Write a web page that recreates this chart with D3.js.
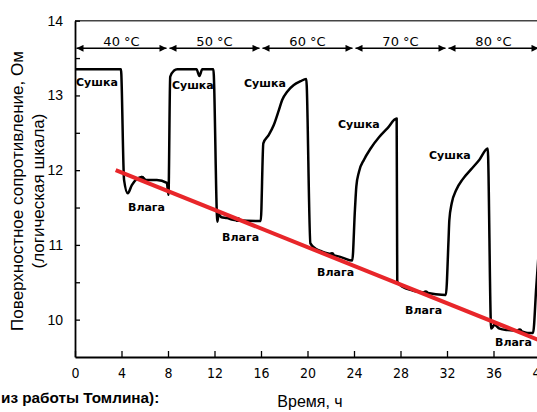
<!DOCTYPE html>
<html>
<head>
<meta charset="utf-8">
<script src="https://cdn.jsdelivr.net/npm/d3@7"></script>
<style>
  body { margin: 0; background: #fff; }
  svg { display: block; }
</style>
</head>
<body>
<div id="chart"></div>
<script>
// chart data
var xTicks = [0, 4, 8, 12, 16, 20, 24, 28, 32, 36, 40];
var yTicks = [10, 11, 12, 13, 14];
var yMinorTicks = [10.5, 11.5, 12.5, 13.5];

var bandLabels = ["40 °C", "50 °C", "60 °C", "70 °C", "80 °C"];
var bandStarts = [0, 8, 16, 24, 32];
var bandEnds = [8, 16, 24, 32, 40];

// time (h), log resistance
var resistanceCurve = [
  [0, 13.35], [3.95, 13.35], [4.22, 11.87], [4.54, 11.69], [4.89, 11.80], [5.3, 11.88],
  [5.75, 11.91], [6.1, 11.87], [7.04, 11.87], [7.9, 11.83], [8.04, 11.67],
  [8.19, 13.25], [8.5, 13.33], [8.8, 13.35], [10.45, 13.35], [10.7, 13.26], [10.95, 13.35], [11.9, 13.35],
  [12.25, 11.31], [12.35, 11.41], [12.6, 11.37], [13.1, 11.36], [13.5, 11.34], [14.0, 11.33], [15.98, 11.32],
  [16.2, 12.36], [16.66, 12.47], [17.09, 12.60], [17.53, 12.80], [17.82, 12.94], [18.25, 13.05],
  [18.82, 13.14], [19.4, 13.19], [19.89, 13.22],
  [20.25, 11.02], [20.7, 10.95], [21.26, 10.91], [22.1, 10.87], [23.0, 10.83], [23.85, 10.79],
  [24.08, 11.47], [24.2, 11.78], [24.43, 11.98], [24.86, 12.14], [25.43, 12.29], [26.15, 12.44],
  [26.87, 12.56], [27.67, 12.69],
  [27.72, 10.51], [28.16, 10.44], [29.03, 10.39], [30.17, 10.36], [31.03, 10.34], [31.9, 10.33],
  [32.13, 11.06], [32.2, 11.33], [32.41, 11.56], [32.78, 11.73], [33.36, 11.88], [34.07, 12.01],
  [34.79, 12.14], [35.5, 12.29],
  [35.8, 9.88], [36.09, 9.93], [36.52, 9.88], [37.24, 9.86], [38.25, 9.85], [38.96, 9.82], [39.4, 9.82],
  [39.68, 10.44], [39.83, 10.77], [40, 11.15]
];
var moistureDots = [[5.75, 11.89], [14.0, 11.34], [22.1, 10.87], [30.17, 10.36], [38.25, 9.85]];

// red trend line
var trendLine = [[3.5, 12.0], [40, 9.72]];

// annotation anchors (time, value)
var dryLabels = [[0.09, 13.13], [8.34, 13.09], [14.54, 13.11], [22.62, 12.56], [30.45, 12.15]];
var wetLabels = [[4.56, 11.46], [12.65, 11.05], [20.82, 10.58], [28.39, 10.08], [36.13, 9.65]];

var width = 537, height = 412;
var bandLevel = 13.63;

var svg = d3.select("#chart")
  .append("svg")
    .attr("width", width)
    .attr("height", height);

var x = d3.scaleLinear()
  .domain([0, 40])
  .range([75, 540]);

var y = d3.scaleLinear()
  .domain([9.5, 14])
  .range([357, 20.7]);

// top frame line
svg.append("line")
  .attr("x1", x(0)).attr("x2", x(40))
  .attr("y1", y(14)).attr("y2", y(14))
  .attr("stroke", "#444")
  .attr("stroke-width", 1.5);

// x axis, ticks pointing up
var xAxis = svg.append("g")
  .attr("transform", "translate(0," + y(9.5) + ")")
  .call(d3.axisBottom(x).tickValues(xTicks).tickSize(-6).tickSizeOuter(0).tickPadding(11));
xAxis.selectAll("text")
  .style("font-family", "'Liberation Sans Narrow', 'DejaVu Sans Condensed', sans-serif")
  .style("font-size", "14px")
  .attr("fill", "#000");

// y axis, ticks pointing right
var yAxis = svg.append("g")
  .attr("transform", "translate(" + x(0) + ",0)")
  .call(d3.axisLeft(y).tickValues(yTicks).tickFormat(d3.format("d")).tickSize(-5).tickSizeOuter(0).tickPadding(12));
yAxis.selectAll("text")
  .style("font-family", "'Liberation Sans', Arial, sans-serif")
  .style("font-size", "14px")
  .attr("fill", "#000");

svg.append("g")
  .attr("transform", "translate(" + x(0) + ",0)")
  .call(d3.axisLeft(y).tickValues(yMinorTicks).tickSize(-5).tickSizeOuter(0).tickFormat(""))
  .select(".domain").remove();

svg.selectAll(".domain").attr("stroke", "#000").attr("stroke-width", 1.8);
svg.selectAll(".tick line").attr("stroke", "#000").attr("stroke-width", 1.3);

// temperature bands with arrows
svg.append("defs").append("marker")
    .attr("id", "arrow")
    .attr("viewBox", "0 0 10 10")
    .attr("refX", 10)
    .attr("refY", 5)
    .attr("markerUnits", "userSpaceOnUse")
    .attr("markerWidth", 11)
    .attr("markerHeight", 7)
    .attr("orient", "auto-start-reverse")
  .append("path")
    .attr("d", "M0,0L10,5L0,10Z")
    .attr("fill", "#000");

var bands = svg.selectAll(".band")
  .data(bandLabels)
  .enter()
  .append("g")
    .attr("class", "band");

bands.append("line")
  .attr("x1", function(d, i) { return x(bandStarts[i]) + 1.5; })
  .attr("x2", function(d, i) { return x(bandEnds[i]) - 1.5; })
  .attr("y1", y(bandLevel))
  .attr("y2", y(bandLevel))
  .attr("stroke", "#000")
  .attr("stroke-width", 1.5)
  .attr("marker-start", "url(#arrow)")
  .attr("marker-end", "url(#arrow)");

bands.append("text")
  .attr("x", function(d, i) { return x((bandStarts[i] + bandEnds[i]) / 2); })
  .attr("y", y(bandLevel) - 2.6)
  .attr("text-anchor", "middle")
  .style("font-family", "'DejaVu Sans', sans-serif")
  .style("font-size", "13px")
  .text(function(d) { return d; });

// measured curve
var line = d3.line()
  .x(function(d) { return x(d[0]); })
  .y(function(d) { return y(d[1]); })
  .curve(d3.curveMonotoneX);

svg.append("path")
  .datum(resistanceCurve)
  .attr("d", line)
  .attr("fill", "none")
  .attr("stroke", "#000")
  .attr("stroke-width", 2.5)
  .attr("stroke-linejoin", "round");

svg.selectAll(".dot")
  .data(moistureDots)
  .enter()
  .append("circle")
    .attr("cx", function(d) { return x(d[0]); })
    .attr("cy", function(d) { return y(d[1]); })
    .attr("r", 2.6)
    .attr("fill", "#000");

// trend
svg.append("path")
  .datum(trendLine)
  .attr("d", d3.line().x(function(d) { return x(d[0]); }).y(function(d) { return y(d[1]); }))
  .attr("stroke", "#e8262a")
  .attr("stroke-width", 4)
  .attr("fill", "none");

// annotations
svg.selectAll(".dry")
  .data(dryLabels)
  .enter()
  .append("text")
    .attr("x", function(d) { return x(d[0]); })
    .attr("y", function(d) { return y(d[1]); })
    .style("font-family", "'DejaVu Sans', sans-serif")
    .style("font-weight", "bold")
    .style("font-size", "11px")
    .text("Сушка");

svg.selectAll(".wet")
  .data(wetLabels)
  .enter()
  .append("text")
    .attr("x", function(d) { return x(d[0]); })
    .attr("y", function(d) { return y(d[1]); })
    .style("font-family", "'DejaVu Sans', sans-serif")
    .style("font-weight", "bold")
    .style("font-size", "11px")
    .text("Влага");

// axis titles
var yTitle = svg.append("text")
  .attr("transform", "translate(23,191) rotate(-90)")
  .attr("text-anchor", "middle")
  .style("font-family", "'Liberation Sans', Arial, sans-serif")
  .style("font-size", "17px");
yTitle.append("tspan").attr("x", 0).attr("y", 0).text("Поверхностное сопротивление, Ом");
yTitle.append("tspan").attr("x", 0).attr("y", 21).text("(логическая шкала)");

svg.append("text")
  .attr("x", 310)
  .attr("y", 407)
  .attr("text-anchor", "middle")
  .style("font-family", "'Liberation Sans', Arial, sans-serif")
  .style("font-size", "16px")
  .text("Время, ч");

svg.append("text")
  .attr("x", 1)
  .attr("y", 402.5)
  .style("font-family", "'Liberation Sans', Arial, sans-serif")
  .style("font-weight", "bold")
  .style("font-size", "15.3px")
  .text("из работы Томлина):");
</script>
</body>
</html>
